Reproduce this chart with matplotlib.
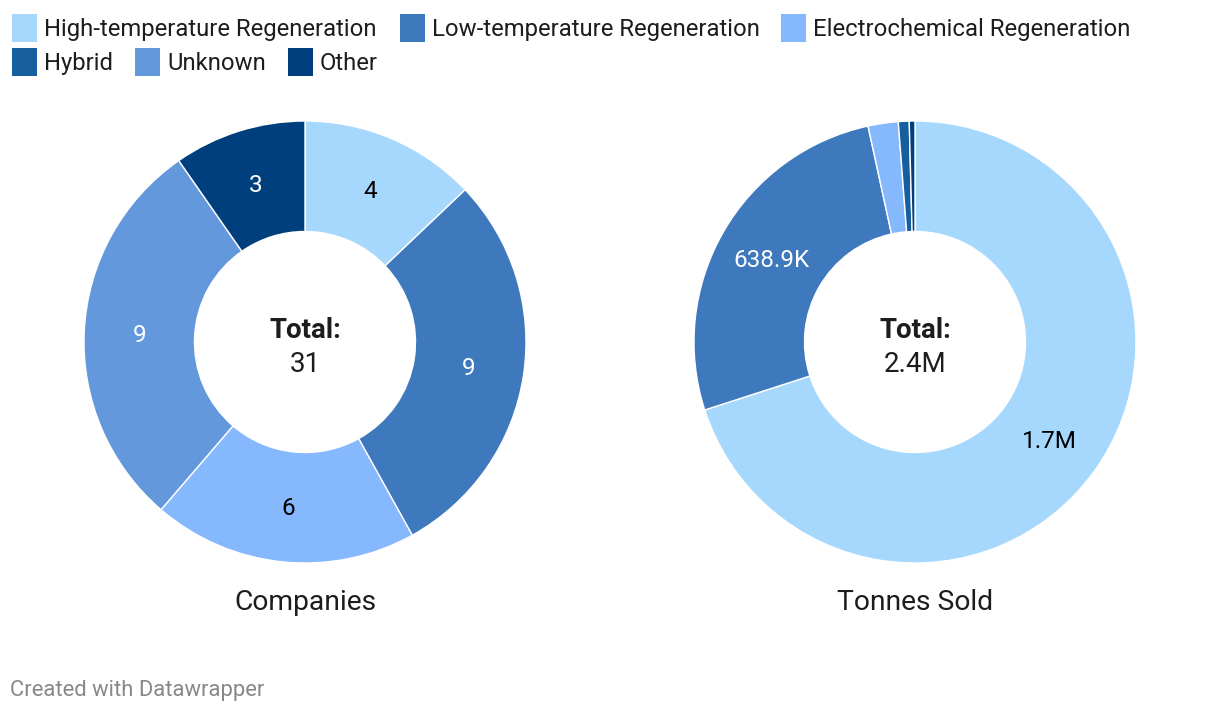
import matplotlib
matplotlib.use("Agg")
import matplotlib.pyplot as plt
from matplotlib.patches import Rectangle
import numpy as np

plt.rcParams['font.family'] = ['Roboto', 'DejaVu Sans']

categories = ["High-temperature Regeneration", "Low-temperature Regeneration",
              "Electrochemical Regeneration", "Hybrid", "Unknown", "Other"]
colors = ["#a6d8fe", "#3e78bd", "#86b8fd", "#155f9f", "#6398dc", "#003f7d"]

companies = [4, 9, 6, 0, 9, 3]
tonnes = [1684000, 638900, 53000, 19000, 0, 10000]

companies_labels = ["4", "9", "6", "", "9", "3"]
tonnes_labels = ["1.7M", "638.9K", "", "", "", ""]
label_colors = ["#000000", "#ffffff", "#000000", "#ffffff", "#ffffff", "#ffffff"]

titles = ["Companies", "Tonnes Sold"]
totals = ["31", "2.4M"]

W, H = 1220, 712
fig = plt.figure(figsize=(W / 100, H / 100), dpi=100)
fig.patch.set_facecolor("white")

R_PX = 221.0

def draw_donut(cx, cy, r, values, labels, title, total):
    ax = fig.add_axes([(cx - r) / W, (H - cy - r) / H, 2 * r / W, 2 * r / H])
    idx = [i for i, v in enumerate(values) if v > 0]
    vals = [values[i] for i in idx]
    cols = [colors[i] for i in idx]
    ax.pie(vals, colors=cols, startangle=90, counterclock=False,
           radius=1.0, wedgeprops=dict(width=0.5, edgecolor="white", linewidth=1.0))
    tot = sum(vals)
    acc = 0
    cap_off = 8.0 / r
    for k, i in enumerate(idx):
        frac_mid = (acc + vals[k] / 2) / tot
        acc += vals[k]
        if labels[i]:
            ang = np.deg2rad(90 - 360 * frac_mid)
            ax.text(0.75 * np.cos(ang), 0.75 * np.sin(ang) - cap_off, labels[i],
                    ha="center", va="baseline", fontsize=17.5, color=label_colors[i])
    ax.text(0, 4.5 / r, "Total:", ha="center", va="baseline", fontsize=20,
            fontweight="bold", color="#1d1d1d")
    ax.text(0, -29.5 / r, total, ha="center", va="baseline", fontsize=20, color="#1d1d1d")
    ax.set_xlim(-1, 1)
    ax.set_ylim(-1, 1)
    ax.set_aspect("equal")
    ax.axis("off")
    fig.text(cx / W, 1 - 610 / H, title, ha="center", va="baseline", fontsize=20.3, color="#1d1d1d")

draw_donut(305, 342, R_PX, companies, companies_labels, titles[0], totals[0])
draw_donut(915, 342, R_PX, tonnes, tonnes_labels, titles[1], totals[1])

# legend
legend_pos = [(12, 28), (400, 28), (781, 28), (12, 62), (135, 62), (288, 62)]
for (x, y), c, name in zip(legend_pos, colors, categories):
    fig.patches.append(Rectangle((x / W, (H - y - 14) / H), 25 / W, 28 / H,
                                 transform=fig.transFigure, facecolor=c, edgecolor="none"))
    fig.text((x + 32) / W, 1 - (y + 8) / H, name, ha="left", va="baseline",
             fontsize=17.2, color="#1d1d1d")

fig.text(10 / W, 1 - 696 / H, "Created with Datawrapper", ha="left", va="baseline",
         fontsize=15.8, color="#888888")

fig.savefig("out.png", dpi=100, facecolor="white")
